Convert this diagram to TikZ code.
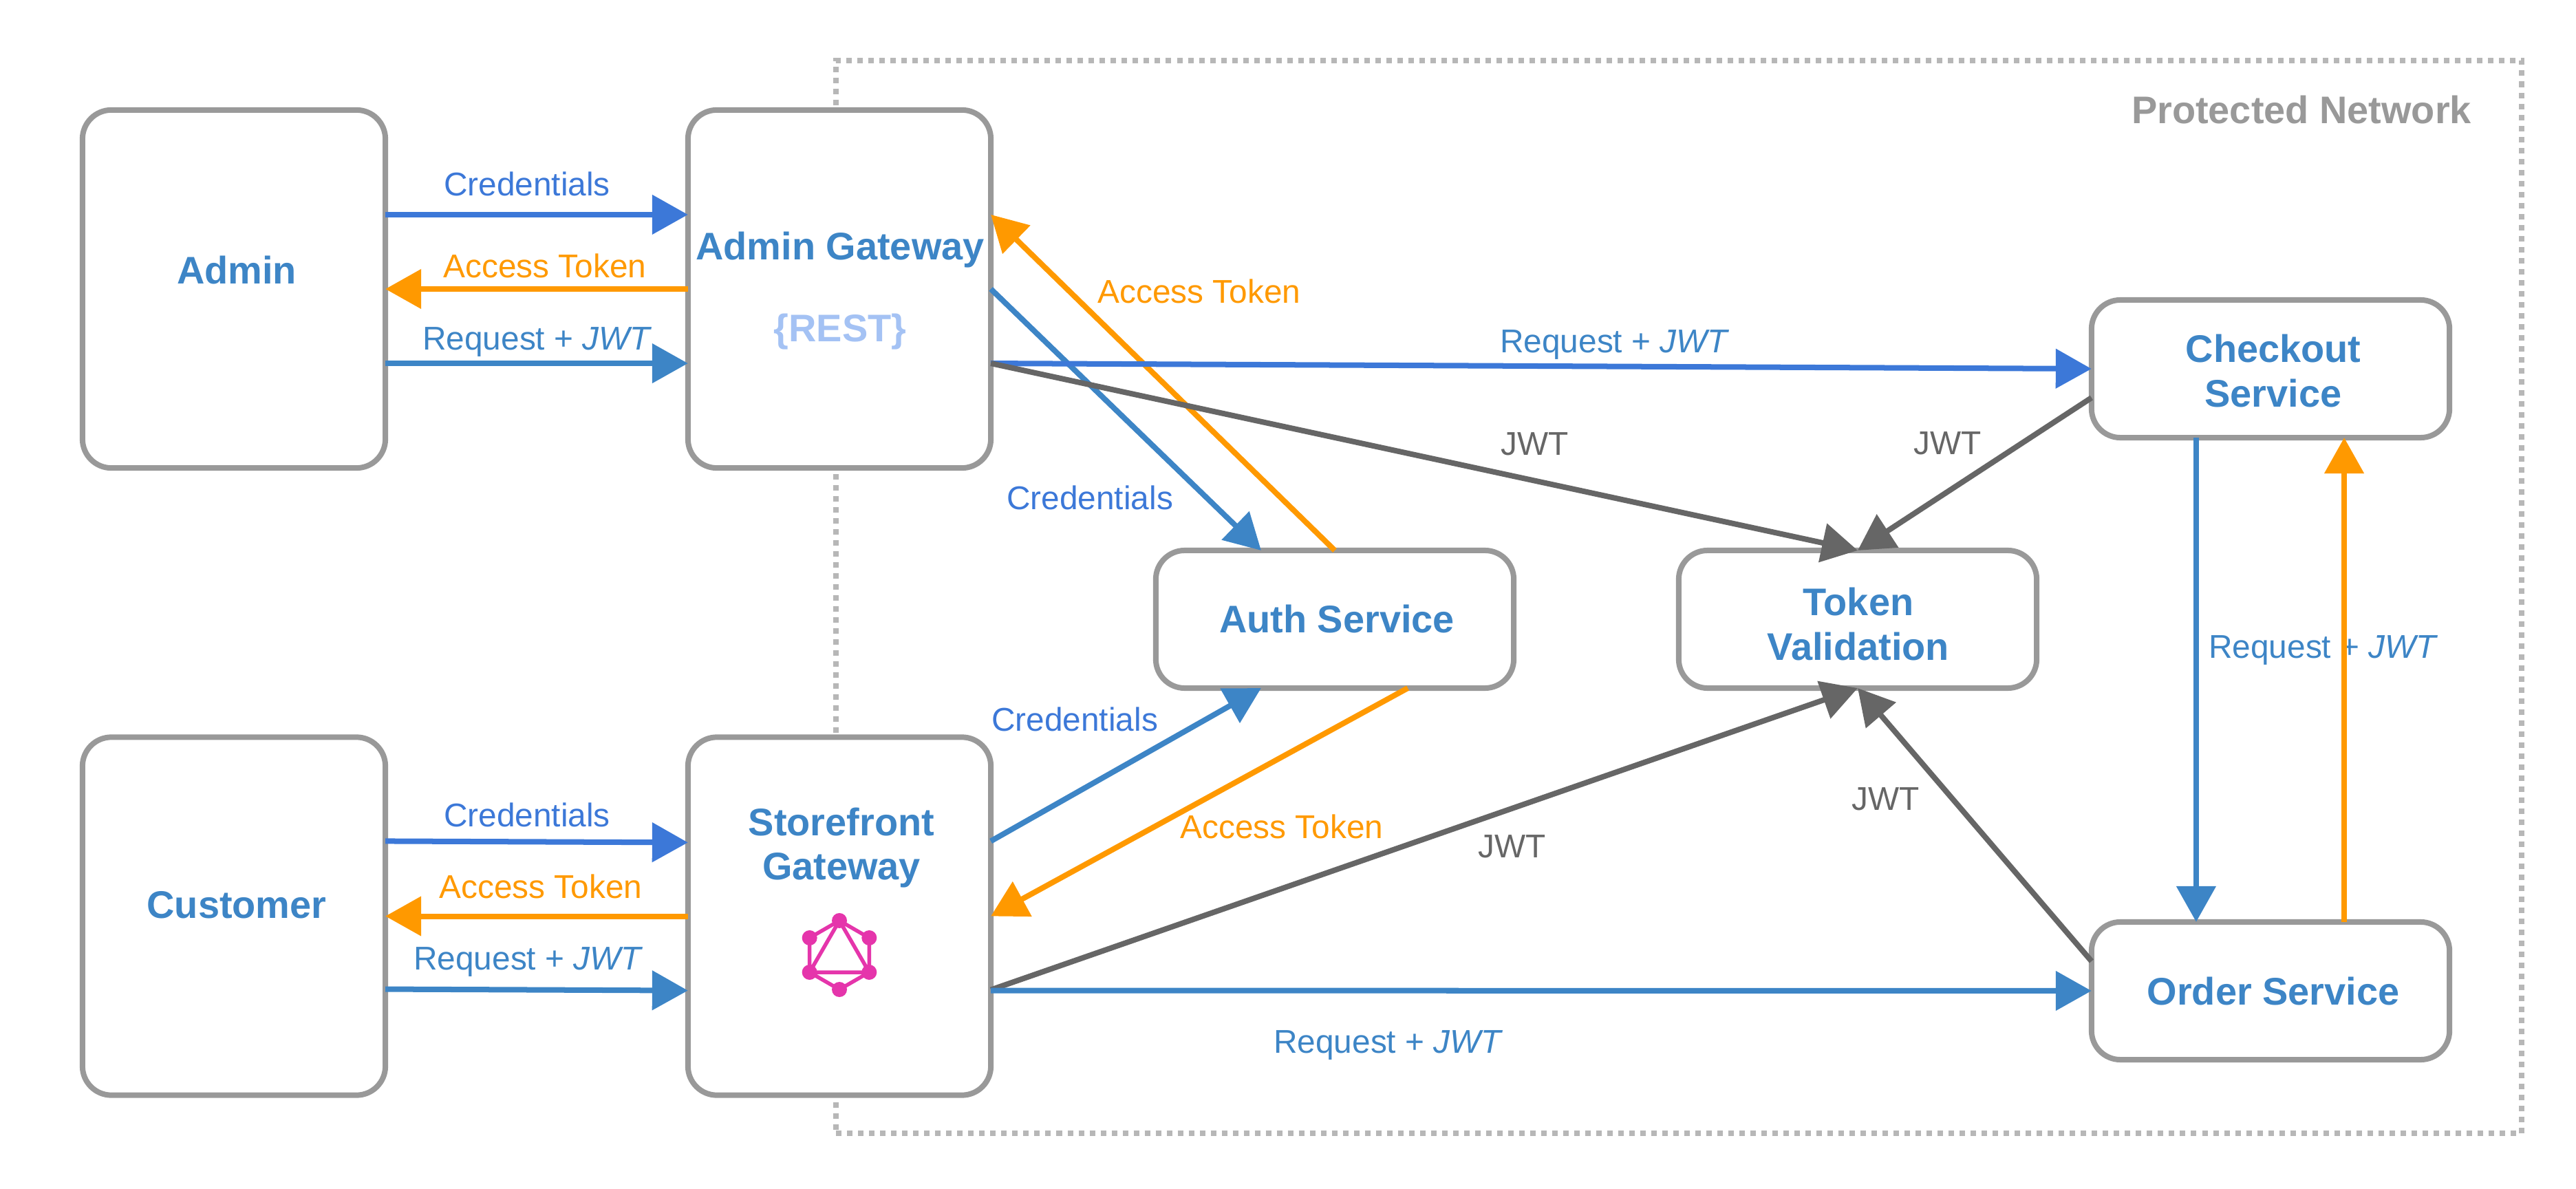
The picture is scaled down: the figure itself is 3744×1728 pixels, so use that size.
\documentclass[tikz,border=0pt]{standalone}
\usepackage{fontspec}
\setmainfont{Liberation Sans}
\usetikzlibrary{arrows.meta}
\definecolor{credblue}{HTML}{3C78D8}
\definecolor{boxblue}{HTML}{3D85C6}
\definecolor{tokenorange}{HTML}{FF9900}
\definecolor{jwtgrey}{HTML}{666666}
\definecolor{boxgrey}{HTML}{999999}
\definecolor{netgrey}{HTML}{B7B7B7}
\definecolor{restblue}{HTML}{A4C2F4}
\definecolor{logopink}{HTML}{E535AB}
\tikzset{
  flow/.style={line width=.08cm, -{Triangle[length=.52cm,width=.56cm]}},
  svcbox/.style={draw=boxgrey, fill=white, line width=.08cm, rounded corners=.42cm, inner sep=0, outer sep=0},
  wide/.style={svcbox, minimum width=5.2cm, minimum height=2cm},
  tall/.style={svcbox, minimum width=4.4cm, minimum height=5.2cm},
  boxlabel/.style={inner sep=0, text=boxblue, align=center, font=\fontsize{15.9pt}{18.4pt}\selectfont\bfseries},
  flowlabel/.style={inner sep=0, anchor=base, font=\fontsize{13.6pt}{16pt}\selectfont},
}
\begin{document}
\begin{tikzpicture}[x=.01cm, y=-.01cm]
  \useasboundingbox (0,0) rectangle (3744,1728);

  \node[draw=netgrey, line width=.08cm, dash pattern=on .08cm off .08cm, inner sep=0, outer sep=0,
    minimum width=24.48cm, minimum height=15.59cm] (network) at (2440,867.5) {};
  \node[boxlabel, anchor=base, text=boxgrey] (networklabel) at (3345,180) {Protected Network};

  \node[tall] (admin) at (340,420) {};
  \node[tall] (admingw) at (1220,420) {};
  \node[tall] (customer) at (340,1331.5) {};
  \node[tall] (storefront) at (1220,1331.5) {};
  \node[wide] (auth) at (1940,900) {};
  \node[wide] (token) at (2700,900) {};
  \node[wide] (checkout) at (3300,536) {};
  \node[wide] (order) at (3300,1440) {};

  \node[boxlabel, anchor=base] (adminlabel) at (344,413) {Admin};
  \node[boxlabel, anchor=base] (admingwlabel) at (1221,378) {Admin Gateway};
  \node[boxlabel, anchor=base, text=restblue] (restlabel) at (1221,497) {\{REST\}};
  \node[boxlabel, anchor=base] (customerlabel) at (344,1334) {Customer};
  \node[boxlabel] (storefrontlabel) at (1223,1232) {Storefront\\Gateway};
  \node[boxlabel, anchor=base] (authlabel) at (1943,920) {Auth Service};
  \node[boxlabel] (tokenlabel) at (2701,907) {Token\\Validation};
  \node[boxlabel] (checkoutlabel) at (3304,539) {Checkout\\Service};
  \node[boxlabel, anchor=base] (orderlabel) at (3304,1460) {Order Service};

  \node[flowlabel, text=credblue] (cred1) at (766,285) {Credentials};
  \node[flowlabel, text=tokenorange] (access1) at (792,404) {Access Token};
  \node[flowlabel, text=boxblue] (req1) at (781,509) {Request + \textit{JWT}};
  \node[flowlabel, text=credblue] (cred2) at (766,1201) {Credentials};
  \node[flowlabel, text=tokenorange] (access2) at (786,1305) {Access Token};
  \node[flowlabel, text=boxblue] (req2) at (768,1409) {Request + \textit{JWT}};
  \node[flowlabel, text=tokenorange] (access3) at (1743,441) {Access Token};
  \node[flowlabel, text=credblue] (cred3) at (1584,741) {Credentials};
  \node[flowlabel, text=credblue] (cred4) at (1562,1062) {Credentials};
  \node[flowlabel, text=tokenorange] (access4) at (1863,1218) {Access Token};
  \node[flowlabel, text=boxblue] (req3) at (2347,513) {Request + \textit{JWT}};
  \node[flowlabel, text=boxblue] (req4) at (2018,1530) {Request + \textit{JWT}};
  \node[flowlabel, text=boxblue] (req5) at (3377,957) {Request + \textit{JWT}};
  \node[flowlabel, text=jwtgrey] (jwt1) at (2231,662) {JWT};
  \node[flowlabel, text=jwtgrey] (jwt2) at (2831,661) {JWT};
  \node[flowlabel, text=jwtgrey] (jwt3) at (2198,1246) {JWT};
  \node[flowlabel, text=jwtgrey] (jwt4) at (2741,1177) {JWT};

  \draw[flow, credblue] ([yshift=1.08cm]admin.east) -- ([yshift=1.08cm]admingw.west);
  \draw[flow, tokenorange] (admingw.west) -- (admin.east);
  \draw[flow, boxblue] ([yshift=-1.08cm]admin.east) -- ([yshift=-1.08cm]admingw.west);
  \draw[flow, credblue] ([yshift=1.09cm]customer.east) -- ([yshift=1.07cm]storefront.west);
  \draw[flow, tokenorange] (storefront.west) -- (customer.east);
  \draw[flow, boxblue] ([yshift=-1.06cm]customer.east) -- ([yshift=-1.08cm]storefront.west);

  \draw[flow, boxblue] (admingw.east) -- ([xshift=-1.07cm]auth.north);
  \draw[flow, tokenorange] (auth.north) -- ([yshift=1.08cm]admingw.east);
  \draw[flow, credblue] ([yshift=-1.08cm]admingw.east) -- (checkout.west);
  \draw[flow, jwtgrey] ([yshift=-1.08cm]admingw.east) -- (token.north);
  \draw[flow, boxblue] ([yshift=1.09cm]storefront.east) -- ([xshift=-1.07cm]auth.south);
  \draw[flow, tokenorange] ([xshift=1.06cm]auth.south) -- (storefront.east);
  \draw[flow, jwtgrey] ([yshift=-1.07cm]storefront.east) -- (token.south);
  \draw[flow, boxblue] ([yshift=-1.08cm]storefront.east) -- (order.west);
  \draw[flow, jwtgrey] ([yshift=-.42cm]checkout.west) -- (token.north);
  \draw[flow, jwtgrey] ([yshift=.43cm]order.west) -- (token.south);
  \draw[flow, boxblue] ([xshift=-1.08cm]checkout.south) -- ([xshift=-1.08cm]order.north);
  \draw[flow, tokenorange] ([xshift=1.07cm]order.north) -- ([xshift=1.07cm]checkout.south);

  \begin{scope}[shift={(1220,1388)}]
    \draw[logopink, line width=.055cm] (90:.5cm) -- (30:.5cm) -- (-30:.5cm) -- (-90:.5cm) -- (210:.5cm) -- (150:.5cm) -- cycle
      (90:.5cm) -- (210:.5cm) -- (-30:.5cm) -- cycle;
    \foreach \ang in {90,30,-30,-90,210,150}
      \fill[logopink] (\ang:.5cm) circle (.11cm);
  \end{scope}
\end{tikzpicture}
\end{document}
